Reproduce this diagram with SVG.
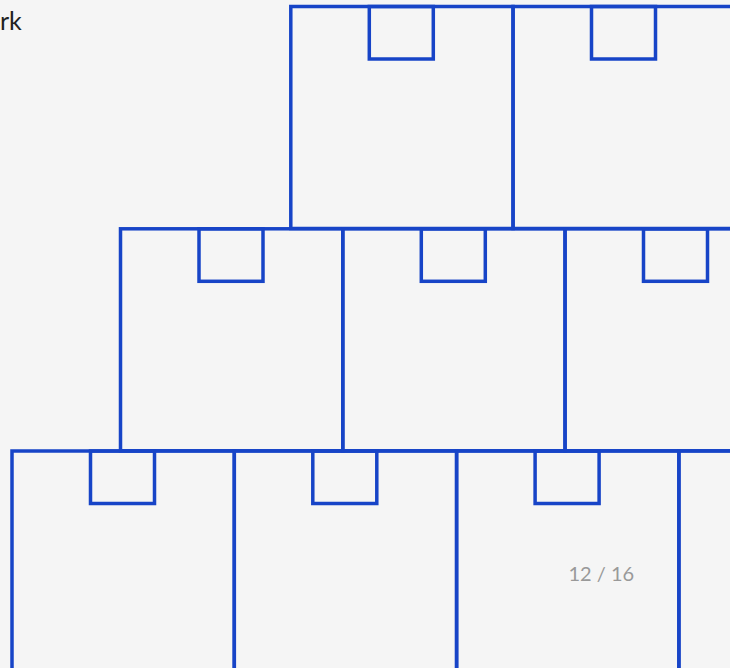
<svg xmlns="http://www.w3.org/2000/svg" width="730" height="668" viewBox="0 0 730 668">
<defs>
<style>
.box{fill:none;stroke:#1744c7;stroke-width:3.5}
.txt{font-family:Lato,"Open Sans",sans-serif}
</style>
<g id="bin">
<rect class="box" x="0" y="0" width="222.3" height="222"/>
<rect class="box" x="78.5" y="0" width="64" height="52.5"/>
</g>
</defs>
<rect width="730" height="668" fill="#f5f5f5"/>
<text class="txt" x="0" y="30" font-size="25" fill="#222">rk</text>
<g id="row1">
<g id="box-1-1"><use href="#bin" x="290.8" y="6.5"/></g>
<g id="box-1-2"><use href="#bin" x="513" y="6.5"/></g>
</g>
<g id="row2">
<g id="box-2-1"><use href="#bin" x="120.5" y="228.8"/></g>
<g id="box-2-2"><use href="#bin" x="342.8" y="228.8"/></g>
<g id="box-2-3"><use href="#bin" x="565" y="228.8"/></g>
</g>
<g id="row3">
<g id="box-3-1"><use href="#bin" x="12" y="451"/></g>
<g id="box-3-2"><use href="#bin" x="234.3" y="451"/></g>
<g id="box-3-3"><use href="#bin" x="456.6" y="451"/></g>
<g id="box-3-4"><use href="#bin" x="678.9" y="451"/></g>
</g>
<g id="connectors"/>
<text class="txt" x="568.5" y="581" font-size="20" fill="#999">12 / 16</text>
</svg>
